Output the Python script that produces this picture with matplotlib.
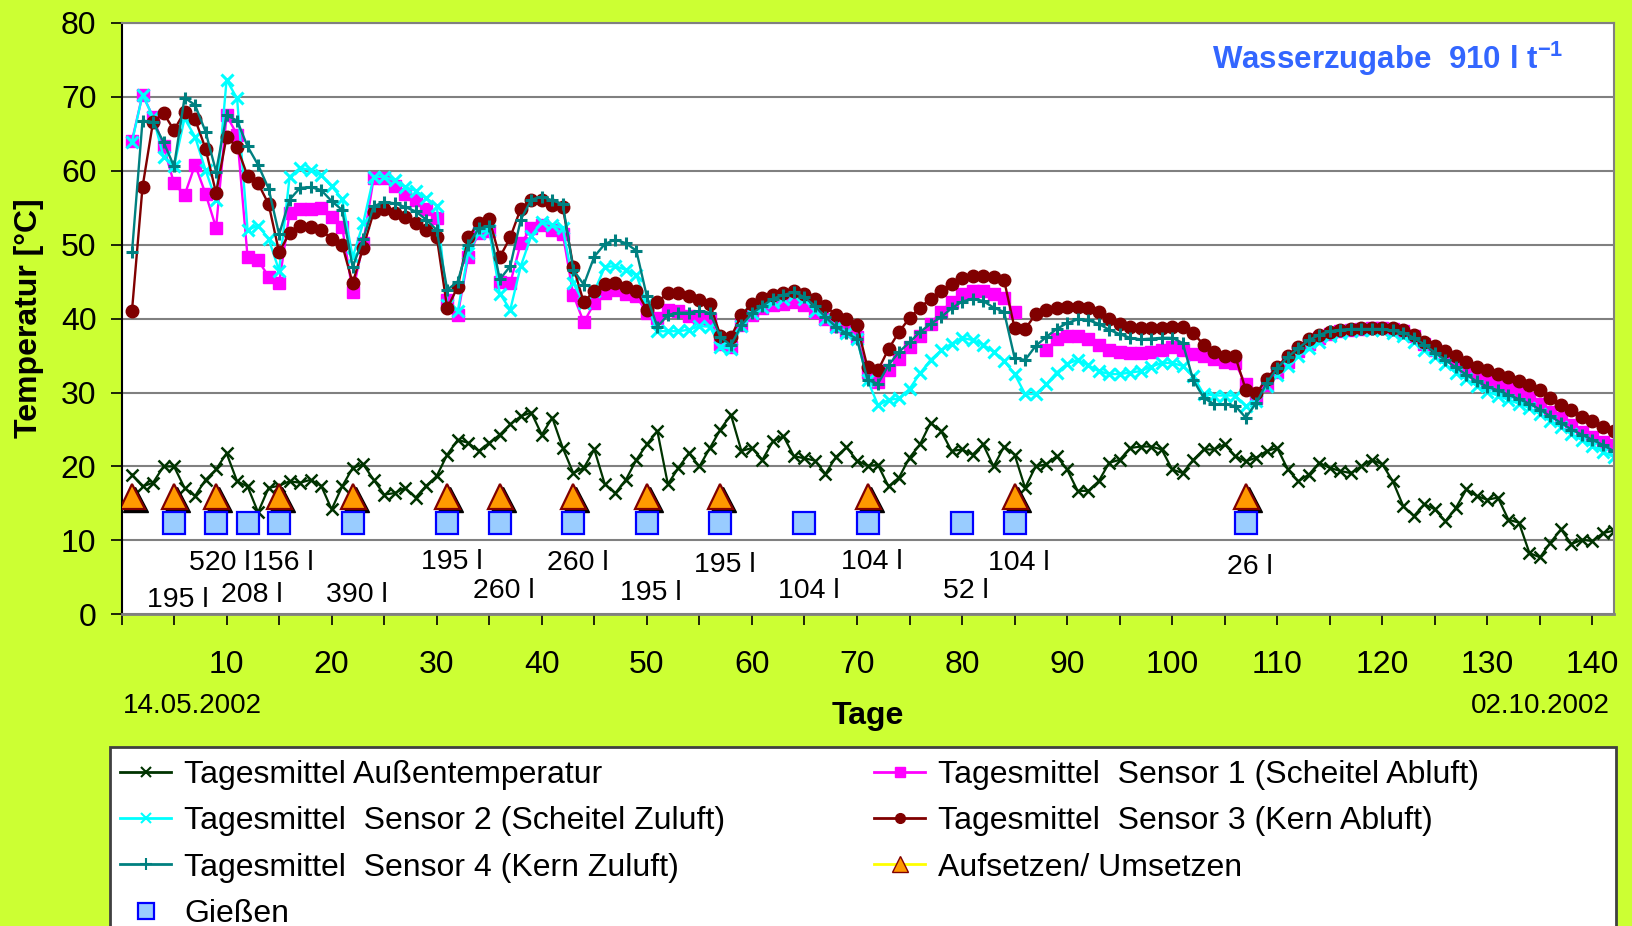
import numpy as np
import matplotlib.pyplot as plt
import matplotlib.transforms as mtransforms
from matplotlib.lines import Line2D
from matplotlib.patches import Rectangle

plt.rcParams['font.family'] = ['Liberation Sans', 'DejaVu Sans']
plt.rcParams['mathtext.fontset'] = 'custom'
plt.rcParams['mathtext.rm'] = 'Liberation Sans'
plt.rcParams['mathtext.bf'] = 'Liberation Sans:bold'

# Tage 1..142
tage = np.arange(1, 143)

aussen = [18.9, 17.3, 17.8, 20.0, 20.0, 17.1, 16.0, 18.2, 19.6, 21.8,
          18.0, 17.3, 13.8, 17.1, 17.4, 18.0, 17.8, 18.2, 17.4, 14.2,
          17.3, 19.8, 20.3, 18.2, 16.2, 16.4, 17.1, 15.8, 17.4, 18.7,
          21.6, 23.6, 23.2, 22.1, 23.2, 24.3, 25.7, 26.8, 27.3, 24.3,
          26.6, 22.5, 19.1, 19.8, 22.3, 17.6, 16.4, 18.2, 20.9, 23.0,
          24.8, 17.6, 19.8, 21.8, 20.0, 22.5, 25.0, 27.0, 22.1, 22.5,
          20.9, 23.4, 24.1, 21.4, 21.1, 20.8, 19.0, 21.3, 22.6, 20.8,
          20.1, 20.2, 17.3, 18.5, 21.2, 23.0, 25.9, 24.8, 22.1, 22.3,
          21.6, 23.0, 20.0, 22.7, 21.6, 17.1, 20.0, 20.3, 21.4, 19.6,
          16.7, 16.7, 18.0, 20.5, 20.9, 22.5, 22.7, 22.7, 22.3, 19.6,
          19.1, 20.9, 22.3, 22.3, 23.0, 21.4, 20.7, 21.2, 22.1, 22.5,
          19.6, 18.0, 18.9, 20.5, 19.8, 19.4, 19.1, 20.0, 20.9, 20.3,
          18.0, 14.6, 13.3, 14.9, 14.2, 12.6, 14.4, 16.9, 16.0, 15.5,
          15.8, 12.8, 12.4, 8.3, 7.7, 9.7, 11.5, 9.5, 10.1, 9.9, 11.0, 11.3]

sensor1 = [64.1, 70.3, 67.3, 63.3, 58.3, 56.7, 60.8, 56.9, 52.3, 67.5,
           64.9, 48.3, 47.9, 45.7, 44.8, 54.3, 54.8, 54.9, 55.0, 53.7,
           52.4, 43.6, 50.2, 59.0, 59.0, 58.0, 56.9, 56.0, 54.8, 53.6,
           42.5, 40.5, 48.4, 51.6, 51.8, 45.0, 44.8, 50.2, 52.2, 52.7,
           52.0, 51.5, 43.2, 39.5, 42.1, 43.5, 43.9, 43.4, 43.1, 40.7,
           40.1, 41.2, 41.0, 40.3, 40.1, 40.0, 36.6, 36.2, 39.1, 40.5,
           41.4, 41.8, 42.0, 42.3, 41.9, 40.9, 39.9, 39.0, 38.3, 37.5,
           32.8, 31.4, 33.0, 34.6, 36.2, 37.7, 39.3, 40.9, 42.3, 43.3,
           43.7, 43.7, 43.4, 42.8, 40.9, np.nan, np.nan, 35.8, 37.2, 37.6,
           37.7, 37.2, 36.5, 35.8, 35.5, 35.4, 35.4, 35.5, 35.7, 36.1,
           35.8, 35.2, 35.0, 34.5, 34.1, 34.0, 31.1, 29.3, 31.0, 32.8,
           34.2, 35.6, 36.6, 37.4, 37.9, 38.3, 38.5, 38.6, 38.7, 38.7,
           38.6, 38.3, 37.6, 36.6, 35.8, 35.0, 34.2, 33.3, 32.4, 31.7,
           31.0, 30.5, 29.9, 29.2, 28.5, 27.4, 26.5, 25.6, 24.7, 24.0, 23.3, 22.9]

sensor2 = [63.9, 70.3, 67.3, 61.9, 60.6, 67.1, 64.6, 60.1, 56.0, 72.3,
           69.8, 52.0, 52.6, 50.8, 46.5, 59.2, 60.4, 60.1, 59.4, 57.9,
           56.2, 48.3, 52.9, 59.2, 59.2, 58.7, 57.8, 57.3, 56.3, 55.3,
           41.9, 41.0, 48.9, 51.6, 52.0, 43.4, 41.2, 47.1, 51.2, 53.1,
           52.7, 52.2, 44.8, 42.1, 43.7, 47.0, 47.1, 46.6, 45.9, 42.0,
           38.3, 38.3, 38.3, 38.5, 39.0, 38.9, 36.2, 35.9, 39.0, 40.7,
           41.6, 42.3, 42.7, 43.2, 42.7, 41.1, 40.0, 38.9, 38.0, 37.2,
           31.7, 28.3, 29.0, 29.2, 30.5, 32.6, 34.4, 35.7, 36.6, 37.4,
           37.1, 36.5, 35.5, 34.3, 32.5, 29.8, 29.8, 31.1, 32.7, 33.9,
           34.4, 33.7, 32.9, 32.5, 32.5, 32.7, 32.9, 33.5, 34.0, 34.0,
           33.6, 32.2, 29.8, 29.6, 29.6, 29.6, 28.2, 28.9, 30.9, 32.4,
           33.6, 35.0, 36.0, 36.9, 37.6, 38.1, 38.3, 38.4, 38.5, 38.4,
           38.1, 37.7, 36.9, 35.8, 34.8, 33.8, 32.7, 31.8, 30.9, 30.1,
           29.6, 29.0, 28.5, 27.9, 27.1, 26.2, 25.3, 24.4, 23.6, 22.8, 22.0, 21.3]

sensor3 = [41.1, 57.8, 66.6, 67.8, 65.5, 68.0, 67.0, 63.0, 57.0, 64.6,
           63.2, 59.3, 58.3, 55.5, 49.0, 51.6, 52.5, 52.4, 52.0, 50.8,
           50.0, 44.8, 49.6, 54.4, 54.8, 54.3, 53.8, 52.9, 52.0, 51.1,
           41.4, 44.3, 51.0, 53.0, 53.5, 48.3, 51.0, 54.9, 56.1, 56.1,
           55.4, 55.1, 47.0, 42.2, 43.8, 44.7, 44.8, 44.3, 43.8, 41.2,
           42.2, 43.5, 43.5, 43.0, 42.5, 42.0, 37.7, 37.5, 40.5, 42.0,
           42.8, 43.2, 43.5, 43.7, 43.4, 42.6, 41.7, 40.5, 39.9, 39.2,
           33.4, 33.0, 35.9, 38.2, 40.1, 41.5, 42.7, 43.7, 44.7, 45.5,
           45.8, 45.8, 45.6, 45.2, 38.7, 38.6, 40.6, 41.2, 41.5, 41.6,
           41.6, 41.4, 40.9, 40.0, 39.3, 38.9, 38.8, 38.7, 38.8, 38.9,
           38.9, 38.0, 36.5, 35.5, 35.0, 34.9, 30.4, 29.9, 31.9, 33.5,
           35.0, 36.2, 37.2, 37.8, 38.2, 38.4, 38.6, 38.7, 38.8, 38.8,
           38.7, 38.4, 37.8, 36.9, 36.3, 35.6, 34.9, 34.2, 33.5, 33.0,
           32.5, 32.1, 31.6, 31.0, 30.3, 29.3, 28.3, 27.6, 26.7, 26.1, 25.4, 24.8]

sensor4 = [49.0, 66.8, 66.6, 63.9, 60.6, 69.9, 68.9, 65.3, 59.9, 67.5,
           66.8, 63.3, 60.8, 57.6, 51.4, 56.1, 57.7, 57.8, 57.4, 55.9,
           54.7, 47.0, 50.8, 55.2, 55.8, 55.6, 55.1, 54.5, 53.4, 52.0,
           43.9, 45.0, 50.0, 52.2, 52.5, 45.3, 47.1, 53.4, 56.1, 56.5,
           56.0, 55.5, 46.6, 44.6, 48.4, 50.1, 50.7, 50.2, 49.2, 43.0,
           38.9, 40.5, 40.8, 40.8, 41.0, 40.8, 37.5, 36.4, 39.1, 40.7,
           41.7, 42.7, 43.2, 43.6, 42.9, 41.7, 40.2, 38.9, 38.0, 37.3,
           31.7, 31.2, 33.7, 35.5, 36.8, 38.2, 39.3, 40.2, 41.4, 42.3,
           42.7, 42.4, 41.5, 40.9, 34.7, 34.4, 36.3, 37.5, 38.6, 39.4,
           39.9, 39.8, 39.3, 38.5, 37.9, 37.4, 37.2, 37.3, 37.4, 37.4,
           36.7, 31.7, 29.3, 28.4, 28.4, 28.2, 26.6, 28.6, 31.3, 33.3,
           34.8, 36.0, 37.1, 37.8, 38.3, 38.5, 38.6, 38.6, 38.6, 38.6,
           38.4, 38.1, 37.4, 36.5, 35.4, 34.4, 33.4, 32.4, 31.5, 30.8,
           30.3, 29.7, 29.1, 28.5, 27.7, 26.8, 25.9, 25.0, 24.3, 23.6, 22.9, 22.1]

# Aufsetzen / Umsetzen (Tag), Gießen (Tag) mit Wassermengen
umsetzen_tage = [1, 5, 9, 15, 22, 31, 36, 43, 50, 57, 71, 85, 107]
giessen_tage = [5, 9, 12, 15, 22, 31, 36, 43, 50, 57, 65, 71, 80, 85, 107]
wasser_menge = ['195 l', '520 l', '208 l', '156 l', '390 l', '195 l', '260 l',
                '260 l', '195 l', '195 l', '104 l', '104 l', '52 l', '104 l', '26 l']
wasser_zeile = [2.0, 6.9, 2.6, 6.9, 2.6, 7.1, 3.1, 6.9, 2.9, 6.7, 3.1, 7.1, 3.1, 6.9, 6.4]

fig = plt.figure(figsize=(16.32, 9.26), dpi=100, facecolor='#CCFF33')
ax = fig.add_axes([121.5/1632, 1-614.3/926, 1492/1632, 591.3/926])
ax.set_facecolor('white')

ax.plot(tage, aussen, color='#003300', lw=1.6, marker='x', ms=8, mew=1.8,
        label='Tagesmittel Außentemperatur')
ax.plot(tage, sensor1, color='#FF00FF', lw=1.7, marker='s', ms=8.3,
        label='Tagesmittel  Sensor 1 (Scheitel Abluft)')
ax.plot(tage, sensor2, color='#00FFFF', lw=1.7, marker='x', ms=9, mew=2.2,
        label='Tagesmittel  Sensor 2 (Scheitel Zuluft)')
ax.plot(tage, sensor3, color='#800000', lw=1.7, marker='o', ms=9,
        label='Tagesmittel  Sensor 3 (Kern Abluft)')
ax.plot(tage, sensor4, color='#008080', lw=1.7, marker='+', ms=9, mew=2.2,
        label='Tagesmittel  Sensor 4 (Kern Zuluft)')

y_umsetzen = np.full(len(umsetzen_tage), 16.0)
y_giessen = np.full(len(giessen_tage), 12.3)
shadow = mtransforms.offset_copy(ax.transData, fig=fig, x=3, y=-3, units='dots')
ax.plot(umsetzen_tage, y_umsetzen, ls='none', marker='^', ms=18, color='black',
        transform=shadow, zorder=4)
ax.plot(umsetzen_tage, y_umsetzen, ls='none', marker='^', ms=18, mfc='#FF9900',
        mec='#800000', mew=1.6, zorder=5)
ax.plot(giessen_tage, y_giessen, ls='none', marker='s', ms=15.5, mfc='#99CCFF',
        mec='#0000FF', mew=1.6, zorder=5)

# Wassermengen etwas rechts von den Gießen-Markern
for t, m, z in zip(giessen_tage, wasser_menge, wasser_zeile):
    ax.text(t + 0.4, z, m, ha='center', va='center', fontsize=20.5)

ax.set_xlim(0, 142)
ax.set_ylim(0, 80)
ax.set_xticks(np.arange(10, 141, 10))
ax.set_xticks(np.arange(0, 142, 5), minor=True)
ax.set_yticks(np.arange(0, 81, 10))
ax.tick_params(axis='both', which='both', direction='out', length=8, width=1.2,
               labelsize=23, colors='black')
ax.tick_params(axis='x', which='major', pad=18)
ax.tick_params(axis='y', pad=10)
ax.grid(axis='y', color='#808080', lw=1.5)
ax.set_axisbelow(True)
for s in ['top', 'right']:
    ax.spines[s].set_color('#808080')
    ax.spines[s].set_linewidth(1.5)
ax.spines['left'].set_linewidth(1.5)
ax.spines['bottom'].set_color('#808080')
ax.spines['bottom'].set_linewidth(2)

ax.set_ylabel('Temperatur [°C]', fontsize=23, fontweight='bold')
ax.yaxis.label.set_va('center')
ax.yaxis.set_label_coords(-0.062, 0.5)
ax.set_xlabel('Tage', fontsize=23, fontweight='bold')
ax.xaxis.label.set_va('center')
ax.xaxis.set_label_coords(0.5, -0.172)

ax.text(6.7, -12.4, '14.05.2002', ha='center', va='center', fontsize=20, clip_on=False)
ax.text(135, -12.4, '02.10.2002', ha='center', va='center', fontsize=20, clip_on=False)
ax.text(0.731, 0.939, r'Wasserzugabe  910 l t$^{\mathbf{-1}}$', transform=ax.transAxes,
        ha='left', va='center', fontsize=22.5, fontweight='bold', color='#3366FF')

# Legende
fig.patches.append(Rectangle((110/1632, -0.05), 1506/1632, 0.05 + (926-747)/926,
                             transform=fig.transFigure, facecolor='white',
                             edgecolor='#404040', lw=2, zorder=0))
h_aussen = Line2D([], [], color='#003300', lw=2, marker='x', ms=7, mew=1.5)
h_s1 = Line2D([], [], color='#FF00FF', lw=2, marker='s', ms=7)
h_s2 = Line2D([], [], color='#00FFFF', lw=2, marker='x', ms=7, mew=1.5)
h_s3 = Line2D([], [], color='#800000', lw=2, marker='o', ms=7)
h_s4 = Line2D([], [], color='#008080', lw=2, marker='+', ms=8, mew=1.5)
h_um = Line2D([], [], color='#FFFF00', lw=2, marker='^', ms=12, mfc='#FF9900', mec='#800000')
h_gi = Line2D([], [], ls='none', marker='s', ms=12, mfc='#99CCFF', mec='#0000FF', mew=1.6)

leg_kw = dict(loc='upper left', frameon=False, fontsize=23, borderpad=0,
              handlelength=1.6, handletextpad=0.4, labelspacing=0.51, borderaxespad=0)
fig.legend([h_aussen, h_s2, h_s4, h_gi],
           ['Tagesmittel Außentemperatur', 'Tagesmittel  Sensor 2 (Scheitel Zuluft)',
            'Tagesmittel  Sensor 4 (Kern Zuluft)', 'Gießen'],
           bbox_to_anchor=(120/1632, (926-760)/926), **leg_kw)
fig.legend([h_s1, h_s3, h_um],
           ['Tagesmittel  Sensor 1 (Scheitel Abluft)', 'Tagesmittel  Sensor 3 (Kern Abluft)',
            'Aufsetzen/ Umsetzen'],
           bbox_to_anchor=(874/1632, (926-760)/926), **leg_kw)

plt.savefig('out.png', dpi=100, facecolor=fig.get_facecolor())
